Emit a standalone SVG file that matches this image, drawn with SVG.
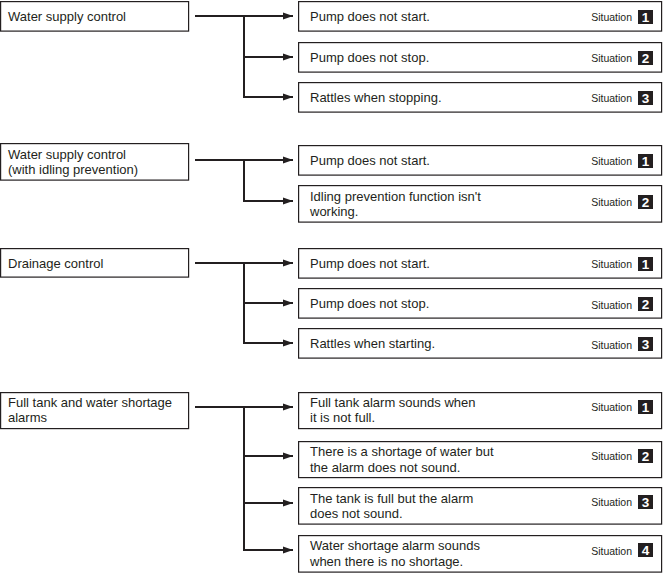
<svg xmlns="http://www.w3.org/2000/svg" width="664" height="575" viewBox="0 0 664 575">
<defs>
<style>
.box{fill:#fff;stroke:#231f20;stroke-width:1.2}
.t{font-family:"Liberation Sans",Arial,sans-serif;font-size:13px;fill:#231f20}
.s{font-family:"Liberation Sans",Arial,sans-serif;font-size:10.5px;fill:#231f20;text-anchor:end}
.b{fill:#231f20}
.n{font-family:"Liberation Sans",Arial,sans-serif;font-size:13.5px;font-weight:bold;fill:#fff;text-anchor:middle}
.c{fill:none;stroke:#231f20;stroke-width:2}
</style>
<marker id="ah" markerWidth="10" markerHeight="8" refX="10" refY="4" orient="auto" markerUnits="userSpaceOnUse">
<path d="M0,0.5 L10,4 L0,7.5 Z" fill="#231f20"/>
</marker>
</defs>
<rect width="664" height="575" fill="#fff"/>
<g id="connectors">
<path class="c" d="M195,16 H244 M244,16 V97" />
<path class="c" d="M244,16 H293" marker-end="url(#ah)"/>
<path class="c" d="M244,57 H293" marker-end="url(#ah)"/>
<path class="c" d="M243,97 H293" marker-end="url(#ah)"/>
<path class="c" d="M195,160 H244 M244,160 V202" />
<path class="c" d="M244,160 H293" marker-end="url(#ah)"/>
<path class="c" d="M243,201 H293" marker-end="url(#ah)"/>
<path class="c" d="M195,263 H244 M244,263 V343" />
<path class="c" d="M244,263 H293" marker-end="url(#ah)"/>
<path class="c" d="M244,303 H293" marker-end="url(#ah)"/>
<path class="c" d="M243,343 H293" marker-end="url(#ah)"/>
<path class="c" d="M195,407 H244 M244,407 V551" />
<path class="c" d="M244,407 H293" marker-end="url(#ah)"/>
<path class="c" d="M244,456 H293" marker-end="url(#ah)"/>
<path class="c" d="M244,503 H293" marker-end="url(#ah)"/>
<path class="c" d="M243,550 H293" marker-end="url(#ah)"/>
</g>
<g id="n1"><rect class="box" x="0.6" y="1.6" width="188" height="29.5"/><text class="t" x="8" y="20.5">Water supply control</text></g>
<g id="n1a"><rect class="box" x="298.6" y="1.6" width="363" height="29.5"/><text class="t" x="310" y="21">Pump does not start.</text><text class="s" x="632" y="21">Situation</text><rect class="b" x="638" y="10" width="15" height="14"/><text class="n" x="645.5" y="22">1</text></g>
<g id="n1b"><rect class="box" x="298.6" y="42.6" width="363" height="29.5"/><text class="t" x="310" y="62">Pump does not stop.</text><text class="s" x="632" y="62">Situation</text><rect class="b" x="638" y="51" width="15" height="14"/><text class="n" x="645.5" y="63">2</text></g>
<g id="n1c"><rect class="box" x="298.6" y="82.6" width="363" height="29.5"/><text class="t" x="310" y="102">Rattles when stopping.</text><text class="s" x="632" y="102">Situation</text><rect class="b" x="638" y="91" width="15" height="14"/><text class="n" x="645.5" y="103">3</text></g>

<g id="n2"><rect class="box" x="0.6" y="143.6" width="188" height="36.5"/><text class="t" x="8" y="158.5">Water supply control</text><text class="t" x="8" y="173.5">(with idling prevention)</text></g>
<g id="n2a"><rect class="box" x="298.6" y="145.6" width="363" height="29.5"/><text class="t" x="310" y="165">Pump does not start.</text><text class="s" x="632" y="165">Situation</text><rect class="b" x="638" y="154" width="15" height="14"/><text class="n" x="645.5" y="166">1</text></g>
<g id="n2b"><rect class="box" x="298.6" y="185.6" width="363" height="36.5"/><text class="t" x="310" y="201">Idling prevention function isn't</text><text class="t" x="310" y="216">working.</text><text class="s" x="632" y="206">Situation</text><rect class="b" x="638" y="195" width="15" height="14"/><text class="n" x="645.5" y="207">2</text></g>

<g id="n3"><rect class="box" x="0.6" y="248.6" width="188" height="28.5"/><text class="t" x="8" y="268">Drainage control</text></g>
<g id="n3a"><rect class="box" x="298.6" y="248.6" width="363" height="29.5"/><text class="t" x="310" y="268">Pump does not start.</text><text class="s" x="632" y="268">Situation</text><rect class="b" x="638" y="257" width="15" height="14"/><text class="n" x="645.5" y="269">1</text></g>
<g id="n3b"><rect class="box" x="298.6" y="288.6" width="363" height="29.5"/><text class="t" x="310" y="308">Pump does not stop.</text><text class="s" x="632" y="309">Situation</text><rect class="b" x="638" y="297" width="15" height="14"/><text class="n" x="645.5" y="309">2</text></g>
<g id="n3c"><rect class="box" x="298.6" y="328.6" width="363" height="29.5"/><text class="t" x="310" y="348">Rattles when starting.</text><text class="s" x="632" y="349">Situation</text><rect class="b" x="638" y="337" width="15" height="14"/><text class="n" x="645.5" y="349">3</text></g>

<g id="n4"><rect class="box" x="0.6" y="392.6" width="188" height="36"/><text class="t" x="8" y="407">Full tank and water shortage</text><text class="t" x="8" y="422">alarms</text></g>
<g id="n4a"><rect class="box" x="298.6" y="392.6" width="363" height="36"/><text class="t" x="310" y="407">Full tank alarm sounds when</text><text class="t" x="310" y="422">it is not full.</text><text class="s" x="632" y="411">Situation</text><rect class="b" x="638" y="400" width="15" height="14"/><text class="n" x="645.5" y="412">1</text></g>
<g id="n4b"><rect class="box" x="298.6" y="441.6" width="363" height="36"/><text class="t" x="310" y="456">There is a shortage of water but</text><text class="t" x="310" y="472">the alarm does not sound.</text><text class="s" x="632" y="460">Situation</text><rect class="b" x="638" y="449" width="15" height="14"/><text class="n" x="645.5" y="461">2</text></g>
<g id="n4c"><rect class="box" x="298.6" y="487.6" width="363" height="36.5"/><text class="t" x="310" y="502.5">The tank is full but the alarm</text><text class="t" x="310" y="518">does not sound.</text><text class="s" x="632" y="506">Situation</text><rect class="b" x="638" y="495" width="15" height="14"/><text class="n" x="645.5" y="507">3</text></g>
<g id="n4d"><rect class="box" x="298.6" y="535.6" width="363" height="36.5"/><text class="t" x="310" y="550">Water shortage alarm sounds</text><text class="t" x="310" y="566">when there is no shortage.</text><text class="s" x="632" y="555">Situation</text><rect class="b" x="638" y="543" width="15" height="14"/><text class="n" x="645.5" y="555">4</text></g>
</svg>
